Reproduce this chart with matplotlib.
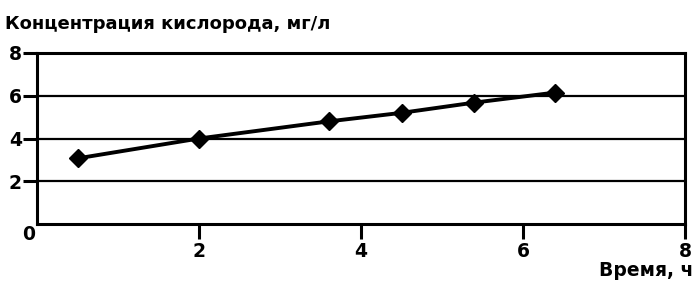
import numpy as np
import matplotlib.pyplot as plt

plt.rcParams['font.family'] = ['DejaVu Sans']
plt.rcParams['font.weight'] = 'bold'

# data
time_h = [0.5, 2.0, 3.6, 4.5, 5.4, 6.4]
oxygen = [3.07, 4.0, 4.8, 5.2, 5.68, 6.15]
xticks = [2, 4, 6, 8]
yticks = [2, 4, 6, 8]

fig = plt.figure(figsize=(6.94, 2.84), dpi=100)
ax = fig.add_axes([37 / 694, 1 - 224 / 284, 648 / 694, 171 / 284])

ax.plot(time_h, oxygen, color='black', lw=2.8, marker='D', ms=9.5, zorder=3)

ax.set_xlim(0, 8)
ax.set_ylim(0, 8)
ax.set_xticks(xticks)
ax.set_yticks(yticks)
ax.yaxis.grid(True, color='black', lw=1.6)
ax.set_axisbelow(True)

for s in ax.spines.values():
    s.set_linewidth(2.2)
ax.tick_params(axis='x', length=11, width=2.2, direction='out', labelsize=13.5, pad=2)
ax.tick_params(axis='y', length=10, width=2.2, direction='out', labelsize=13.5, pad=1)
for lab in ax.get_xticklabels() + ax.get_yticklabels():
    lab.set_fontweight('bold')

fig.text(29 / 694, 1 - 235 / 284, '0', fontsize=13.5, fontweight='bold', ha='center', va='center')
fig.text(5 / 694, 1 - 24 / 284, 'Концентрация кислорода, мг/л', fontsize=13,
         fontweight='bold', ha='left', va='center')
fig.text(693 / 694, 1 - 270 / 284, 'Время, ч', fontsize=13.5, fontweight='bold',
         ha='right', va='center')

fig.savefig('out.png', dpi=100)
